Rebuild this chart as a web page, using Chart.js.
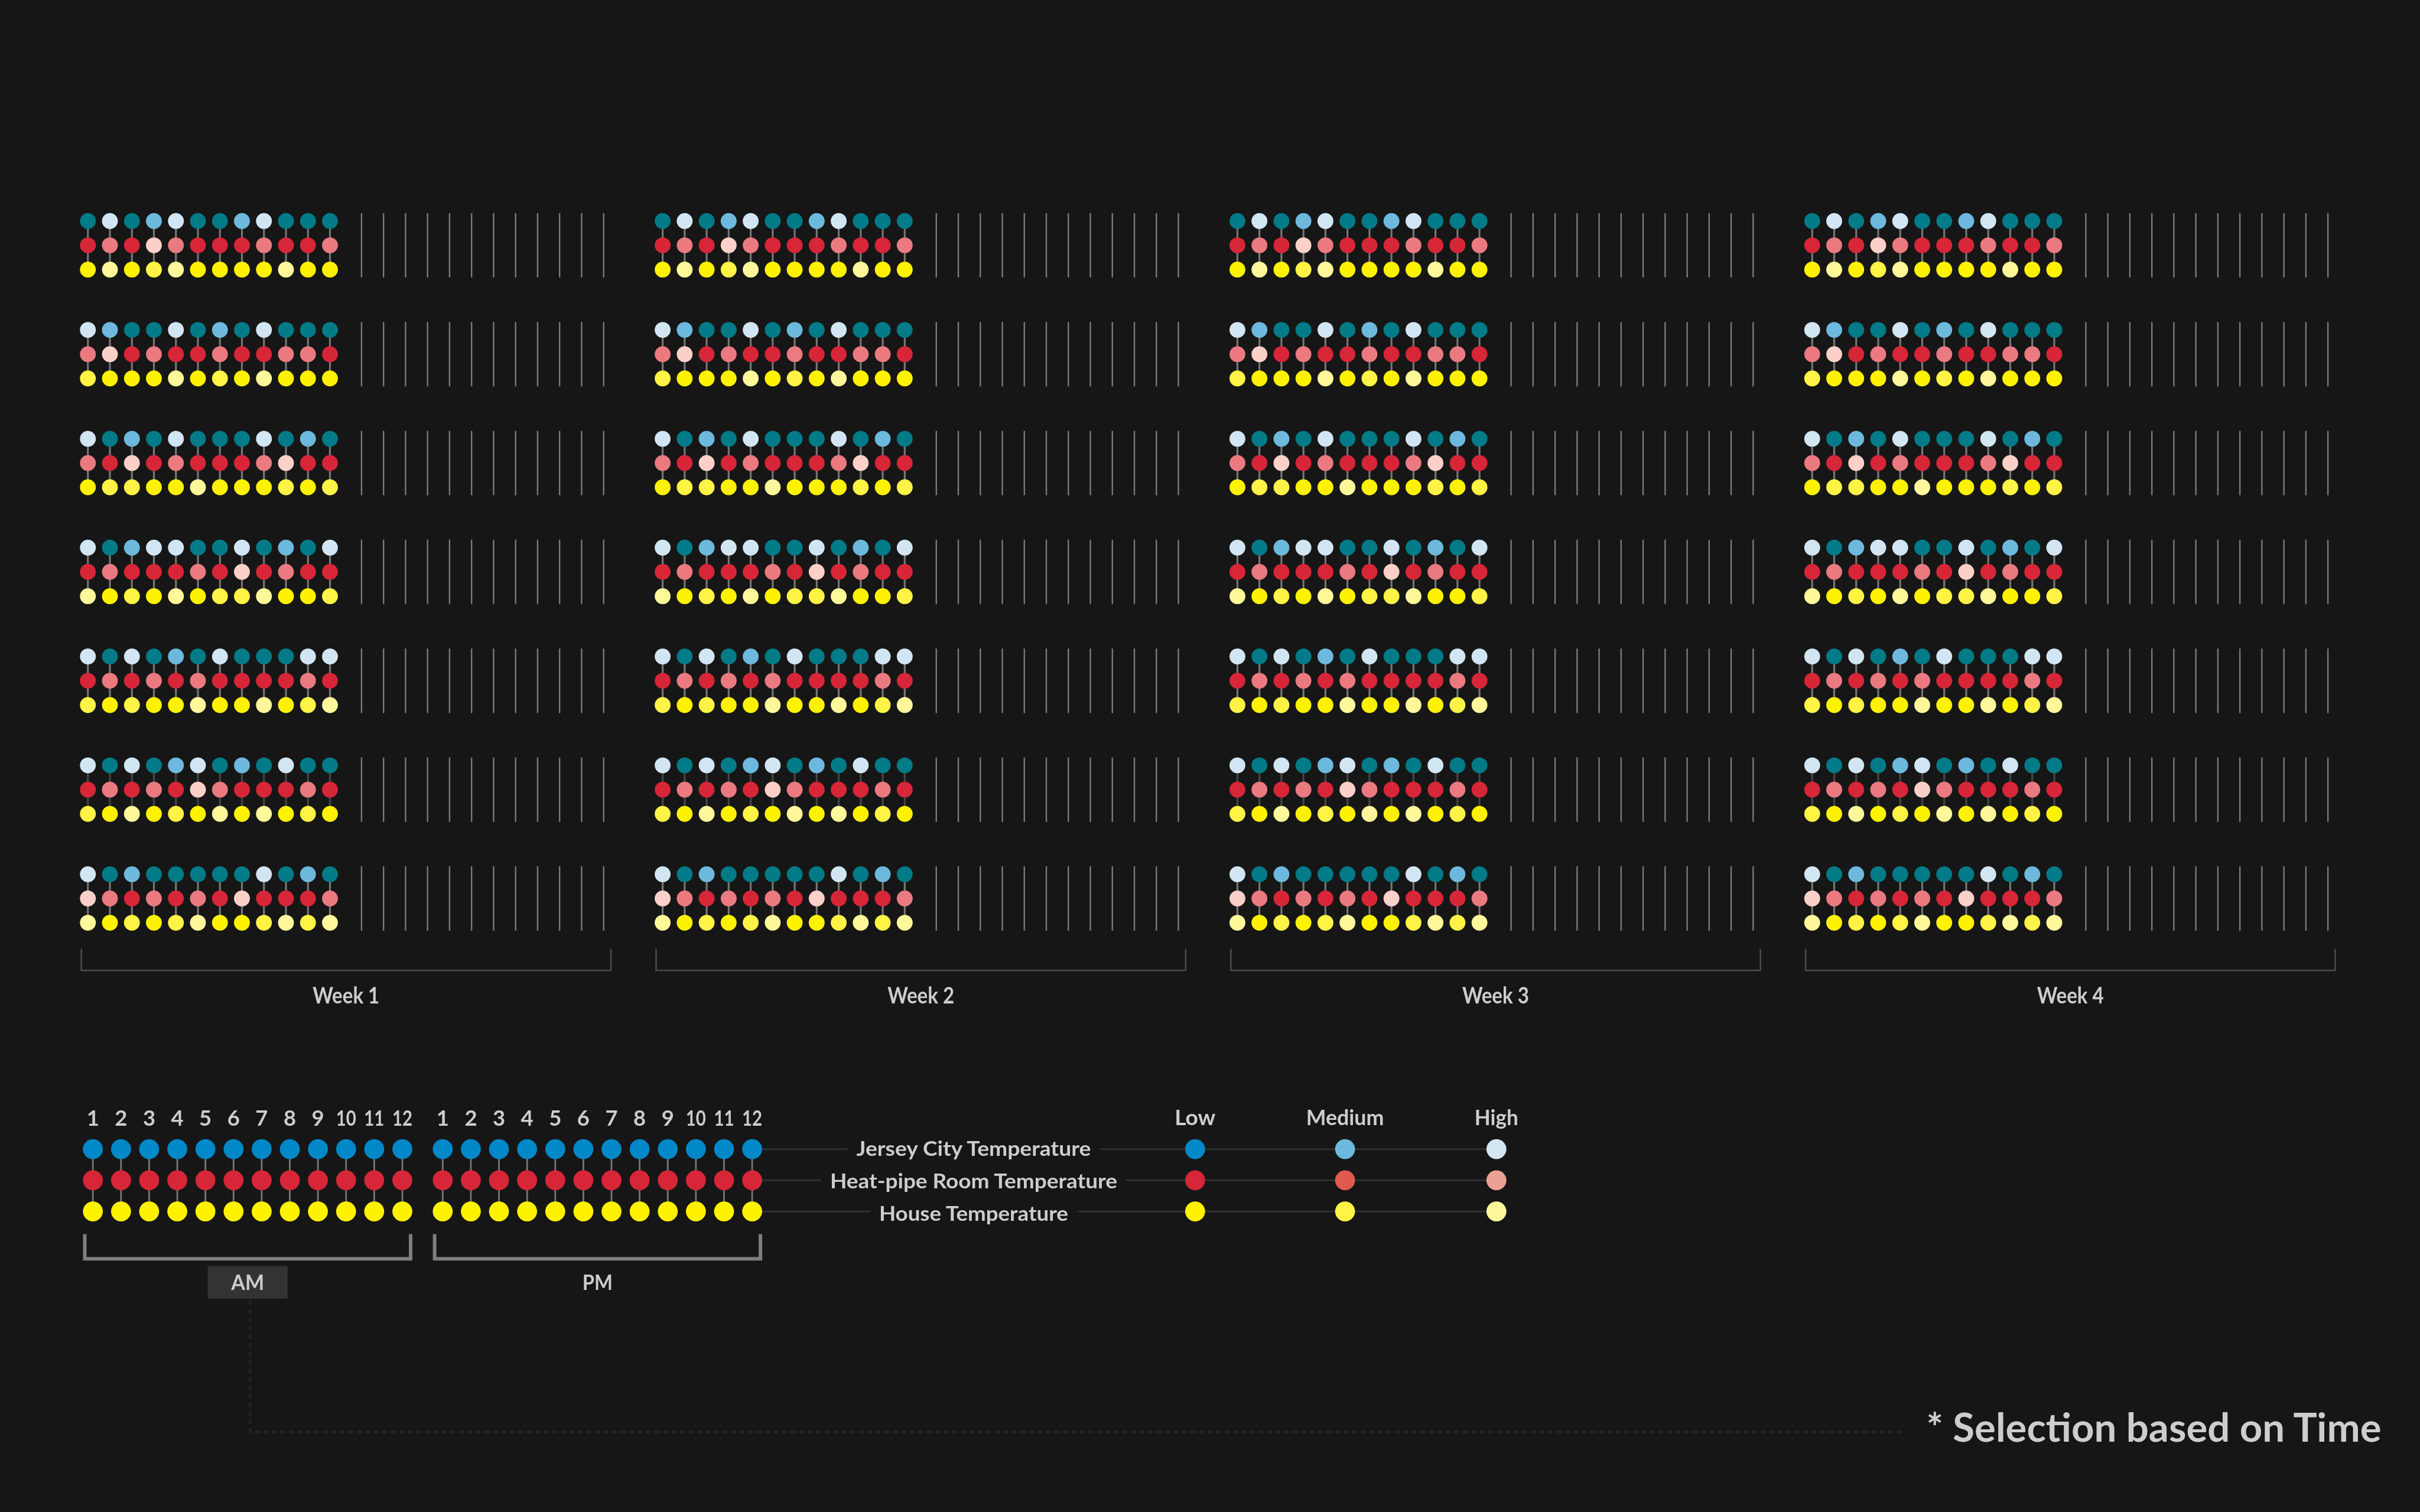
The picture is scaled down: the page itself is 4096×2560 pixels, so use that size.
<!DOCTYPE html>
<html>
<head>
<meta charset="utf-8">
<script src="https://cdn.jsdelivr.net/npm/chart.js@4.4.1/dist/chart.umd.min.js"></script>
<style>
  html, body { margin: 0; padding: 0; background: #161616; width: 4096px; height: 2560px; overflow: hidden; }
  canvas { position: absolute; display: block; }
  svg { position: absolute; left: 0; top: 0; }
  svg text { font-family: Lato, "Open Sans", sans-serif; font-weight: 700; fill: #cdcdcd; }
</style>
</head>
<body>
<div id="root"></div>
<svg id="overlay" width="4096" height="2560" xmlns="http://www.w3.org/2000/svg"></svg>
<script>
// ---------------- DATA ----------------
const weekLabels = ['Week 1', 'Week 2', 'Week 3', 'Week 4'];
const hourLabels = ['1', '2', '3', '4', '5', '6', '7', '8', '9', '10', '11', '12'];
const periodLabels = ['AM', 'PM'];
const seriesNames = ['Jersey City Temperature', 'Heat-pipe Room Temperature', 'House Temperature'];
const levelNames = ['Low', 'Medium', 'High'];
const noteText = '* Selection based on Time';

// Level per AM hour (0 = Low, 1 = Medium, 2 = High); one row per day (7 days), 12 hours each.
const week1JerseyCity = [
  [0,2,0,1,2,0,0,1,2,0,0,0], [2,1,0,0,2,0,1,0,2,0,0,0], [2,0,1,0,2,0,0,0,2,0,1,0],
  [2,0,1,2,2,0,0,2,0,1,0,2], [2,0,2,0,1,0,2,0,0,0,2,2], [2,0,2,0,1,2,0,1,0,2,0,0],
  [2,0,1,0,0,0,0,0,2,0,1,0]
];
const week1HeatPipe = [
  [0,1,0,2,1,0,0,0,1,0,0,1], [1,2,0,1,0,0,1,0,0,1,1,0], [1,0,2,0,1,0,0,0,1,2,0,0],
  [0,1,0,0,0,1,0,2,0,1,0,0], [0,1,0,1,0,1,0,0,0,0,1,0], [0,1,0,1,0,2,1,0,0,0,1,0],
  [2,1,0,1,0,1,0,2,0,0,0,1]
];
const week1House = [
  [0,2,0,1,2,0,0,0,0,2,0,0], [1,0,0,0,2,0,1,0,2,0,0,0], [0,1,1,0,0,2,0,0,0,1,0,1],
  [2,0,1,0,2,0,1,1,2,0,0,1], [1,0,1,0,0,2,0,0,2,0,1,2], [1,0,2,0,1,0,2,0,2,0,1,0],
  [2,0,1,0,1,2,0,0,1,2,1,2]
];
const week2JerseyCity = [
  [0,2,0,1,2,0,0,1,2,0,0,0], [2,1,0,0,2,0,1,0,2,0,0,0], [2,0,1,0,2,0,0,0,2,0,1,0],
  [2,0,1,2,2,0,0,2,0,1,0,2], [2,0,2,0,1,0,2,0,0,0,2,2], [2,0,2,0,1,2,0,1,0,2,0,0],
  [2,0,1,0,0,0,0,0,2,0,1,0]
];
const week2HeatPipe = [
  [0,1,0,2,1,0,0,0,1,0,0,1], [1,2,0,1,0,0,1,0,0,1,1,0], [1,0,2,0,1,0,0,0,1,2,0,0],
  [0,1,0,0,0,1,0,2,0,1,0,0], [0,1,0,1,0,1,0,0,0,0,1,0], [0,1,0,1,0,2,1,0,0,0,1,0],
  [2,1,0,1,0,1,0,2,0,0,0,1]
];
const week2House = [
  [0,2,0,1,2,0,0,0,0,2,0,0], [1,0,0,0,2,0,1,0,2,0,0,0], [0,1,1,0,0,2,0,0,0,1,0,1],
  [2,0,1,0,2,0,1,1,2,0,0,1], [1,0,1,0,0,2,0,0,2,0,1,2], [1,0,2,0,1,0,2,0,2,0,1,0],
  [2,0,1,0,1,2,0,0,1,2,1,2]
];
const week3JerseyCity = [
  [0,2,0,1,2,0,0,1,2,0,0,0], [2,1,0,0,2,0,1,0,2,0,0,0], [2,0,1,0,2,0,0,0,2,0,1,0],
  [2,0,1,2,2,0,0,2,0,1,0,2], [2,0,2,0,1,0,2,0,0,0,2,2], [2,0,2,0,1,2,0,1,0,2,0,0],
  [2,0,1,0,0,0,0,0,2,0,1,0]
];
const week3HeatPipe = [
  [0,1,0,2,1,0,0,0,1,0,0,1], [1,2,0,1,0,0,1,0,0,1,1,0], [1,0,2,0,1,0,0,0,1,2,0,0],
  [0,1,0,0,0,1,0,2,0,1,0,0], [0,1,0,1,0,1,0,0,0,0,1,0], [0,1,0,1,0,2,1,0,0,0,1,0],
  [2,1,0,1,0,1,0,2,0,0,0,1]
];
const week3House = [
  [0,2,0,1,2,0,0,0,0,2,0,0], [1,0,0,0,2,0,1,0,2,0,0,0], [0,1,1,0,0,2,0,0,0,1,0,1],
  [2,0,1,0,2,0,1,1,2,0,0,1], [1,0,1,0,0,2,0,0,2,0,1,2], [1,0,2,0,1,0,2,0,2,0,1,0],
  [2,0,1,0,1,2,0,0,1,2,1,2]
];
const week4JerseyCity = [
  [0,2,0,1,2,0,0,1,2,0,0,0], [2,1,0,0,2,0,1,0,2,0,0,0], [2,0,1,0,2,0,0,0,2,0,1,0],
  [2,0,1,2,2,0,0,2,0,1,0,2], [2,0,2,0,1,0,2,0,0,0,2,2], [2,0,2,0,1,2,0,1,0,2,0,0],
  [2,0,1,0,0,0,0,0,2,0,1,0]
];
const week4HeatPipe = [
  [0,1,0,2,1,0,0,0,1,0,0,1], [1,2,0,1,0,0,1,0,0,1,1,0], [1,0,2,0,1,0,0,0,1,2,0,0],
  [0,1,0,0,0,1,0,2,0,1,0,0], [0,1,0,1,0,1,0,0,0,0,1,0], [0,1,0,1,0,2,1,0,0,0,1,0],
  [2,1,0,1,0,1,0,2,0,0,0,1]
];
const week4House = [
  [0,2,0,1,2,0,0,0,0,2,0,0], [1,0,0,0,2,0,1,0,2,0,0,0], [0,1,1,0,0,2,0,0,0,1,0,1],
  [2,0,1,0,2,0,1,1,2,0,0,1], [1,0,1,0,0,2,0,0,2,0,1,2], [1,0,2,0,1,0,2,0,2,0,1,0],
  [2,0,1,0,1,2,0,0,1,2,1,2]
];
const weeks = [
  [week1JerseyCity, week1HeatPipe, week1House],
  [week2JerseyCity, week2HeatPipe, week2House],
  [week3JerseyCity, week3HeatPipe, week3House],
  [week4JerseyCity, week4HeatPipe, week4House]
];

// ---------------- STYLE ----------------
const GRID_COLORS = [
  ['#007b87', '#6db9dd', '#d2e5f3'],
  ['#d72638', '#ea7a80', '#fbd0c8'],
  ['#fff200', '#fff345', '#fff89a']
];
const LEGEND_COLORS = [
  ['#0088c8', '#6db9dd', '#d2e5f3'],
  ['#d72638', '#e05a4f', '#eba193'],
  ['#fff200', '#fff345', '#fff89a']
];
const BG = '#161616';
const K = 0.768;
const PM_GAP = 0.435;
const hourX = (i, pm) => i + 1 + (pm ? 12 + PM_GAP : 0);

Chart.defaults.animation = false;

function makeChart(left, top, w, h, datasets, xmin, xmax, ymin, ymax) {
  const c = document.createElement('canvas');
  c.width = w; c.height = h;
  c.style.left = left + 'px'; c.style.top = top + 'px';
  c.style.width = w + 'px'; c.style.height = h + 'px';
  document.getElementById('root').appendChild(c);
  const chart = new Chart(c.getContext('2d'), {
    type: 'scatter',
    data: { datasets },
    options: {
      responsive: false, maintainAspectRatio: false, animation: false, devicePixelRatio: 1,
      events: [],
      layout: { padding: 0, autoPadding: false },
      scales: {
        x: { type: 'linear', min: xmin, max: xmax, bounds: 'data', display: false },
        y: { type: 'linear', min: ymin, max: ymax, bounds: 'data', reverse: true, display: false }
      },
      plugins: { legend: { display: false }, tooltip: { enabled: false } }
    }
  });
  return { chart, left, top,
    px: v => left + chart.scales.x.getPixelForValue(v),
    py: v => top + chart.scales.y.getPixelForValue(v) };
}

function segments(list) {
  const out = [];
  list.forEach(([x, y0, y1]) => { out.push({ x, y: y0 }, { x, y: y1 }, { x, y: null }); });
  return out;
}
function lineSet(data, color, width) {
  return { type: 'line', data, borderColor: color, borderWidth: width, pointRadius: 0,
    pointHoverRadius: 0, spanGaps: false, fill: false, tension: 0, showLine: true,
    borderCapStyle: 'butt', order: 2, clip: false };
}
function dotSet(data, colors, r) {
  return { type: 'scatter', data, pointRadius: r, pointHoverRadius: r, pointBackgroundColor: colors,
    pointBorderWidth: 0, borderWidth: 0, showLine: false, order: 0, clip: false };
}

// ---------------- WEEK GRIDS ----------------
const G = { firstCol: 193.7 * K, weekStep: 1266.7 * K, colW: 48.5 * K, rowH: 53.5 * K,
            top: 487.3 * K, dayStep: 240 / 53.5, r: 17.5 * K };
const weekCharts = weeks.map((series, k) => {
  const x1 = G.firstCol + k * G.weekStep;
  const left = Math.round(x1 - 0.8 * G.colW);
  const right = Math.round(x1 + (hourX(11, true) - 1 + 0.8) * G.colW);
  const top = Math.round(G.top - 0.8 * G.rowH);
  const bottom = Math.round(G.top + (6 * G.dayStep + 2.8) * G.rowH);
  const W = right - left, H = bottom - top;
  const xmin = 1 - (x1 - left) / G.colW, xmax = xmin + W / G.colW;
  const ymin = -(G.top - top) / G.rowH, ymax = ymin + H / G.rowH;
  const rU = G.r / G.rowH;
  const stems = [], stemsDark = [], pmLines = [];
  for (let d = 0; d < 7; d++) {
    const y0 = d * G.dayStep;
    for (let i = 0; i < 12; i++) {
      (d === 5 ? stemsDark : stems).push([hourX(i, false), y0, y0 + 2]);
      pmLines.push([hourX(i, true), y0 - rU, y0 + 2 + rU]);
    }
  }
  const datasets = [
    lineSet(segments(stems), '#767676', 3.2),
    lineSet(segments(stemsDark), '#444444', 3.4),
    lineSet(segments(pmLines), '#7a7a7a', 2.4)
  ];
  series.forEach((levels, s) => {
    const pts = [], cols = [];
    levels.forEach((row, d) => row.forEach((lv, i) => {
      pts.push({ x: hourX(i, false), y: d * G.dayStep + s });
      cols.push(GRID_COLORS[s][lv]);
    }));
    datasets.push(dotSet(pts, cols, G.r));
  });
  return makeChart(left, top, W, H, datasets, xmin, xmax, ymin, ymax);
});

// ---------------- LEGEND ----------------
const L = { firstCol: 204.7 * K, colW: 62 * K, rowH: 68.7 * K, top: 2533.3 * K, r: 22 * K };
const KEY_X = [40.18, 45.51, 50.89];
const legend = (() => {
  const left = Math.round(L.firstCol - 1.5 * L.colW);
  const right = Math.round(L.firstCol + (KEY_X[2] - 1 + 1) * L.colW);
  const top = Math.round(L.top - 0.8 * L.rowH);
  const bottom = Math.round(L.top + 2.8 * L.rowH);
  const W = right - left, H = bottom - top;
  const xmin = 1 - (L.firstCol - left) / L.colW, xmax = xmin + W / L.colW;
  const ymin = -(L.top - top) / L.rowH, ymax = ymin + H / L.rowH;
  const stems = [];
  [false, true].forEach(pm => { for (let i = 0; i < 12; i++) stems.push([hourX(i, pm), 0, 2]); });
  const connectors = [];
  seriesNames.forEach((n, s) => connectors.push({ x: hourX(11, true), y: s }, { x: KEY_X[2], y: s }, { x: KEY_X[2], y: null }));
  const datasets = [
    lineSet(connectors, '#323232', 2.8),
    lineSet(segments(stems), '#787878', 2.8)
  ];
  seriesNames.forEach((n, s) => {
    const pts = [], cols = [];
    [false, true].forEach(pm => { for (let i = 0; i < 12; i++) { pts.push({ x: hourX(i, pm), y: s }); cols.push(LEGEND_COLORS[s][0]); } });
    levelNames.forEach((ln, l) => { pts.push({ x: KEY_X[l], y: s }); cols.push(LEGEND_COLORS[s][l]); });
    datasets.push(dotSet(pts, cols, L.r));
  });
  return makeChart(left, top, W, H, datasets, xmin, xmax, ymin, ymax);
})();

// ---------------- OVERLAY (text + decorations) ----------------
const svg = document.getElementById('overlay');
const NS = 'http://www.w3.org/2000/svg';
function el(tag, attrs, parent = svg) {
  const e = document.createElementNS(NS, tag);
  for (const k in attrs) e.setAttribute(k, attrs[k]);
  parent.appendChild(e);
  return e;
}
function text(str, x, y, size, anchor = 'middle', extra = {}, fitWidth = 0) {
  const t = el('text', Object.assign({ x, y, 'font-size': size, 'text-anchor': anchor }, extra));
  t.textContent = str;
  if (fitWidth) { t.setAttribute('textLength', fitWidth); t.setAttribute('lengthAdjust', 'spacingAndGlyphs'); }
  return t;
}

// week brackets + labels
weekCharts.forEach((wc, k) => {
  const l = wc.px(1) - 11.1;
  const r = wc.px(hourX(11, true)) + 12.3;
  el('path', { d: `M${l} 1606.4 V1643 H${r} V1606.4`, fill: 'none', stroke: '#4b4b4b', 'stroke-width': 2.6 });
  text(weekLabels[k], (l + r) / 2, 1698.6, 37.5, 'middle', {}, 113);
});

// hour numbers
[false, true].forEach(pm => hourLabels.forEach((h, i) =>
  text(h, legend.px(hourX(i, pm)), 1905.8, 36.4, 'middle', {}, h.length > 1 ? 34 : 0)));
// level headers
const headerWidths = [69, 131.6, 74];
levelNames.forEach((n, l) => text(n, legend.px(KEY_X[l]), 1905.3, 36.4, 'middle', {}, headerWidths[l]));

// AM / PM brackets
const periodWidths = [55.8, 51.2];
[false, true].forEach((pm, p) => {
  const l = legend.px(hourX(0, pm)) - 13.7;
  const r = legend.px(hourX(11, pm)) + 14;
  el('path', { d: `M${l} 2089.5 V2131.2 H${r} V2089.5`, fill: 'none', stroke: '#7f7f7f', 'stroke-width': 6 });
  const cx = (l + r) / 2;
  if (p === 0) {
    el('rect', { x: cx - 67.4, y: 2143.7, width: 134.8, height: 54.8, fill: '#333333', stroke: '#2a2a2a', 'stroke-width': 1 });
  }
  text(periodLabels[p], cx, 2184.4, 37, 'middle', {}, periodWidths[p]);
});

// dashed selection connector
el('path', { d: 'M423.4 2202 V2424.6 H3223', fill: 'none', stroke: '#262122', 'stroke-width': 5, 'stroke-dasharray': '8 6.4' });
text(noteText, 3260.5, 2441, 66.4, 'start', { fill: '#cccccc' }, 770);

// series names on connector lines
const baselines = [1956.6, 2012.2, 2066.7];
const nameWidths = [396.8, 486.1, 320];
seriesNames.forEach((n, s) => {
  const cx = (legend.px(hourX(11, true)) + legend.px(KEY_X[0])) / 2;
  const rect = el('rect', { fill: BG });
  text(n, cx, baselines[s], 35, 'middle', {}, nameWidths[s]);
  const w = nameWidths[s];
  const ly = legend.py(s);
  rect.setAttribute('x', cx - w / 2 - 15);
  rect.setAttribute('width', w + 30);
  rect.setAttribute('y', ly - 8);
  rect.setAttribute('height', 16);
});
</script>
</body>
</html>
